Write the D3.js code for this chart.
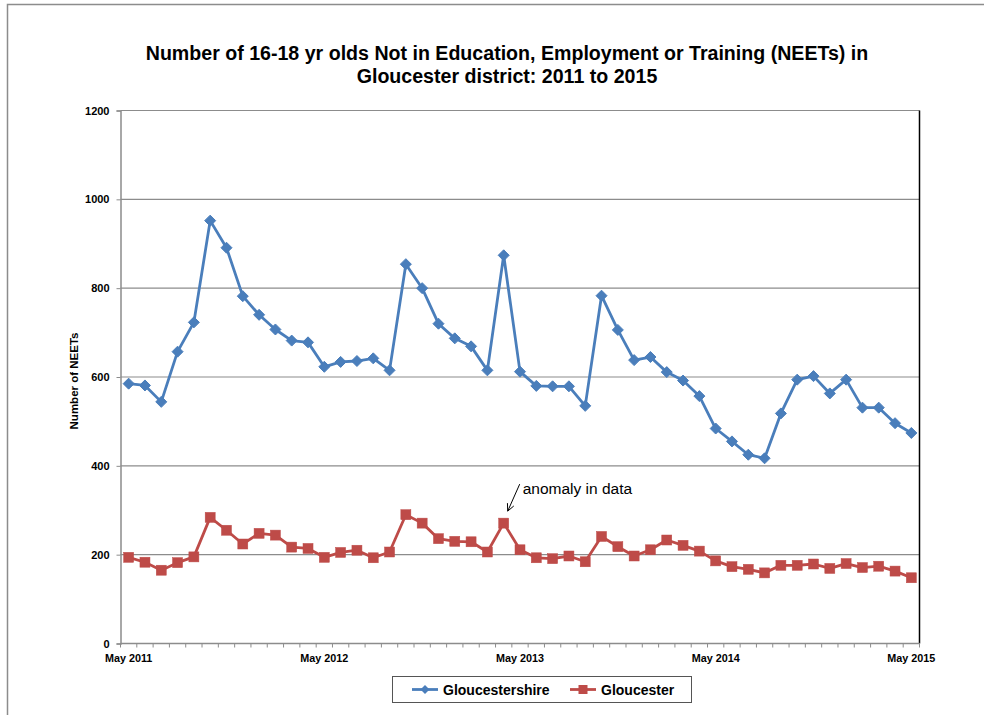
<!DOCTYPE html>
<html>
<head>
<meta charset="utf-8">
<script src="https://cdn.jsdelivr.net/npm/d3@7"></script>
<style>
  html, body { margin: 0; padding: 0; background: #fff; }
  svg { display: block; }
  text { font-family: Arial, "Liberation Sans", sans-serif; }
</style>
</head>
<body>
<svg id="chart" width="984" height="715"></svg>
<script>
const months = ["May 2011","Jun 2011","Jul 2011","Aug 2011","Sep 2011","Oct 2011","Nov 2011","Dec 2011","Jan 2012","Feb 2012","Mar 2012","Apr 2012",
  "May 2012","Jun 2012","Jul 2012","Aug 2012","Sep 2012","Oct 2012","Nov 2012","Dec 2012","Jan 2013","Feb 2013","Mar 2013","Apr 2013",
  "May 2013","Jun 2013","Jul 2013","Aug 2013","Sep 2013","Oct 2013","Nov 2013","Dec 2013","Jan 2014","Feb 2014","Mar 2014","Apr 2014",
  "May 2014","Jun 2014","Jul 2014","Aug 2014","Sep 2014","Oct 2014","Nov 2014","Dec 2014","Jan 2015","Feb 2015","Mar 2015","Apr 2015",
  "May 2015"];
const gloucestershire = [585, 581, 544, 657, 723, 952, 891, 782, 740, 707, 682, 678,
  623, 634, 636, 642, 615, 854, 800, 720, 687, 669, 615, 874,
  612, 580, 579, 579, 535, 783, 706, 638, 645, 611, 592, 557,
  484, 455, 425, 417, 518, 594, 602, 563, 594, 531, 531, 496,
  474];
const gloucester = [194, 183, 165, 182, 195, 284, 255, 224, 248, 244, 217, 214,
  194, 205, 210, 193, 206, 290, 271, 236, 230, 229, 206, 271,
  211, 193, 191, 197, 184, 241, 218, 197, 211, 233, 221, 208,
  186, 173, 167, 159, 176, 176, 179, 169, 180, 171, 174, 163,
  148];
const xTickLabels = ["May 2011","May 2012","May 2013","May 2014","May 2015"];
const yTicks = [0, 200, 400, 600, 800, 1000, 1200];
const titleLines = ["Number of 16-18 yr olds Not in Education, Employment or Training (NEETs) in",
                    "Gloucester district: 2011 to 2015"];
const seriesNames = ["Gloucestershire", "Gloucester"];
const annotationText = "anomaly in data";
const annotationMonth = "Apr 2013";

const svg = d3.select("#chart");
const blue = "#4A7EBB", red = "#BE4B48";

// outer chart border
svg.append("path").attr("d", "M7.5,715 V4.5 H984").attr("fill", "none").attr("stroke", "#8c8c8c").attr("stroke-width", 1.5);

const L = 120.5, R = 919.5, T = 110.5, B = 643.5;
const x = d3.scaleBand().domain(months).range([L, R]);
const y = d3.scaleLinear().domain([0, 1200]).range([B, T]);
const cx = m => x(m) + x.bandwidth() / 2;

// title
const title = svg.append("text").attr("text-anchor", "middle").attr("font-weight", "bold").attr("font-size", 19.6).attr("fill", "#000");
titleLines.forEach((t, i) => title.append("tspan").attr("x", 507).attr("y", 60 + i * 23).text(t));

// gridlines
svg.append("g").selectAll("line").data(yTicks.filter(v => v > 0)).join("line")
  .attr("x1", L).attr("x2", R).attr("y1", d => y(d)).attr("y2", d => y(d))
  .attr("stroke", "#8c8c8c").attr("stroke-width", 1.2);

// right plot border
svg.append("line").attr("x1", R).attr("x2", R).attr("y1", T).attr("y2", B).attr("stroke", "#000").attr("stroke-width", 1.5);

// y axis
const yAxis = svg.append("g").attr("transform", `translate(${L},0)`)
  .call(d3.axisLeft(y).tickValues(yTicks).tickSize(4).tickFormat(d3.format("d")));
yAxis.select(".domain").attr("stroke", "#8c8c8c").attr("stroke-width", 1.5);
yAxis.selectAll(".tick line").attr("stroke", "#8c8c8c");
yAxis.selectAll(".tick text").attr("font-size", 11).attr("font-weight", "bold").attr("fill", "#000").attr("font-family", "Arial, 'Liberation Sans', sans-serif").attr("x", -11);

// x axis: ticks between categories
const xg = svg.append("g");
xg.append("line").attr("x1", L).attr("x2", R).attr("y1", B).attr("y2", B).attr("stroke", "#8c8c8c").attr("stroke-width", 1.5);
const bounds = months.map(m => x(m)).concat([R]);
xg.selectAll("line.t").data(bounds).join("line").attr("class", "t")
  .attr("x1", d => d).attr("x2", d => d).attr("y1", B).attr("y2", B + 4)
  .attr("stroke", "#8c8c8c").attr("stroke-width", 1);
xg.selectAll("text").data(xTickLabels).join("text")
  .attr("x", d => cx(d)).attr("y", B + 18.5).attr("text-anchor", "middle")
  .attr("font-size", 10.8).attr("font-weight", "bold").attr("fill", "#000").text(d => d);

// y axis title
svg.append("text").attr("transform", `translate(78,${(T + B) / 2 + 4}) rotate(-90)`)
  .attr("text-anchor", "middle").attr("font-size", 11.5).attr("font-weight", "bold").text("Number of NEETs");

// lines
const line = d3.line().x((d, i) => cx(months[i])).y(d => y(d));
svg.append("path").datum(gloucestershire).attr("d", line).attr("fill", "none").attr("stroke", blue).attr("stroke-width", 2.8).attr("stroke-linejoin", "round");
svg.append("path").datum(gloucester).attr("d", line).attr("fill", "none").attr("stroke", red).attr("stroke-width", 2.8).attr("stroke-linejoin", "round");

// markers
const diamond = (px, py, r) => `M${px},${py - r}L${px + r},${py}L${px},${py + r}L${px - r},${py}Z`;
svg.append("g").selectAll("path").data(gloucestershire).join("path")
  .attr("d", (d, i) => diamond(cx(months[i]), y(d), 5.5)).attr("fill", blue).attr("stroke", blue).attr("stroke-width", 1);
svg.append("g").selectAll("rect").data(gloucester).join("rect")
  .attr("x", (d, i) => cx(months[i]) - 5).attr("y", d => y(d) - 5).attr("width", 10).attr("height", 10)
  .attr("fill", red).attr("stroke", red).attr("stroke-width", 0.5);

// annotation
const ai = months.indexOf(annotationMonth);
const ax = cx(months[ai]), ay = y(gloucester[ai]);
svg.append("text").attr("x", ax + 19).attr("y", ay - 29).attr("font-size", 15.5)
  .attr("font-family", "Lato, 'Open Sans', sans-serif").attr("fill", "#000").text(annotationText);
const sx = ax + 16, sy = ay - 39, ex = ax + 4, ey = ay - 12;
svg.append("line").attr("x1", sx).attr("y1", sy).attr("x2", ex).attr("y2", ey).attr("stroke", "#000").attr("stroke-width", 1);
const ang = Math.atan2(ey - sy, ex - sx);
const hl = 8;
[-0.45, 0.45].forEach(a => {
  svg.append("line").attr("x1", ex).attr("y1", ey)
    .attr("x2", ex - hl * Math.cos(ang + a)).attr("y2", ey - hl * Math.sin(ang + a))
    .attr("stroke", "#000").attr("stroke-width", 1);
});

// legend
const lg = svg.append("g");
lg.append("rect").attr("x", 392.5).attr("y", 676.5).attr("width", 299).attr("height", 26)
  .attr("fill", "#fff").attr("stroke", "#555").attr("stroke-width", 1);
const items = [{name: seriesNames[0], c: blue, x: 413, type: "d"}, {name: seriesNames[1], c: red, x: 571, type: "s"}];
items.forEach(it => {
  lg.append("line").attr("x1", it.x - 1).attr("x2", it.x + 25).attr("y1", 689.5).attr("y2", 689.5).attr("stroke", it.c).attr("stroke-width", 2.8);
  if (it.type === "d") lg.append("path").attr("d", diamond(it.x + 12, 689.5, 4.5)).attr("fill", it.c);
  else lg.append("rect").attr("x", it.x + 7.5).attr("y", 685).attr("width", 9).attr("height", 9).attr("fill", it.c);
  lg.append("text").attr("x", it.x + 30).attr("y", 694.5).attr("font-size", 14).attr("font-weight", "bold").text(it.name);
});
</script>
</body>
</html>
